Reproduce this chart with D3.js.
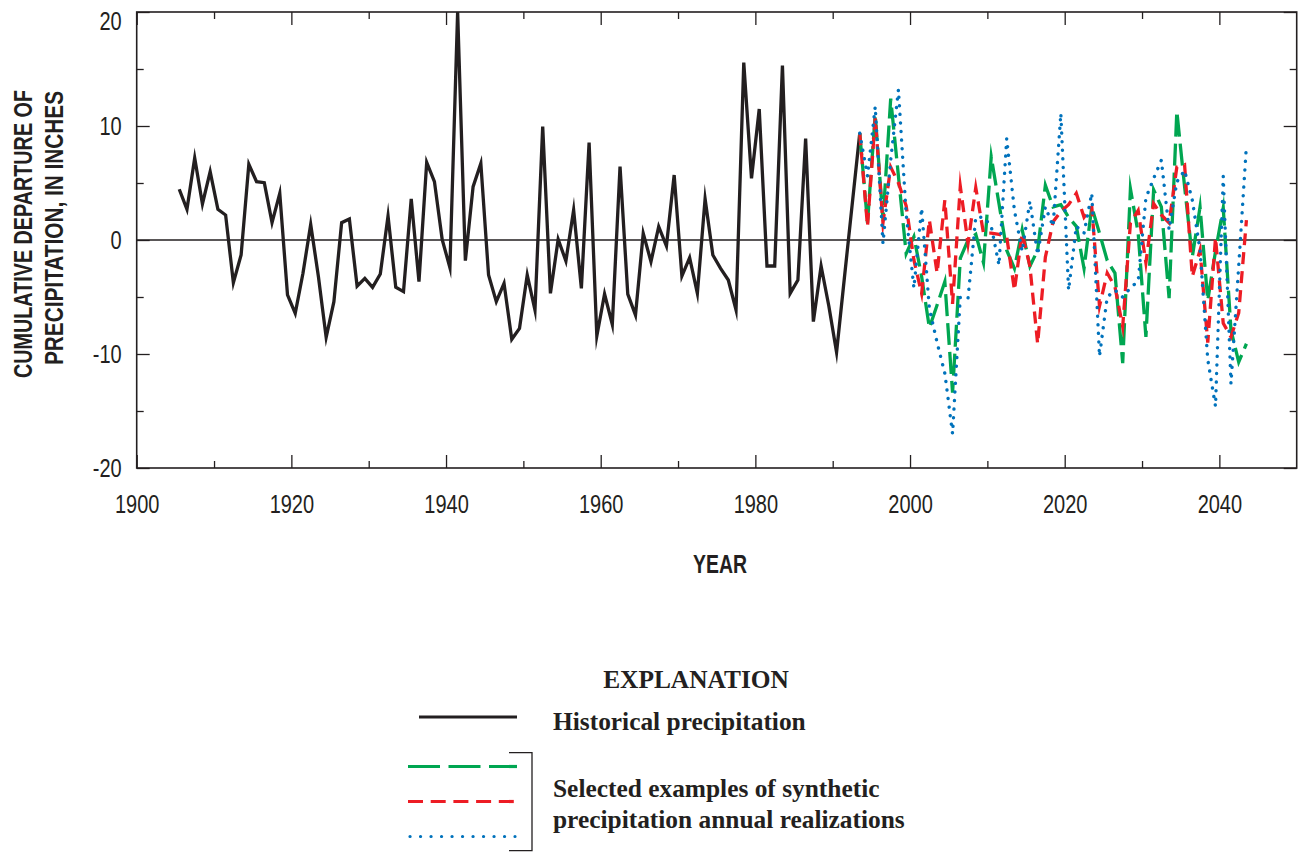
<!DOCTYPE html>
<html>
<head>
<meta charset="utf-8">
<script src="https://cdn.jsdelivr.net/npm/d3@7"></script>
<style>
  body { margin: 0; background: #fff; }
  svg { display: block; }
  .tick text { font-family: "Liberation Sans", Arial, sans-serif; font-size: 25px; fill: #231f20; }
  .axtitle { font-family: "Liberation Sans", Arial, sans-serif; font-weight: bold; font-size: 25px; fill: #231f20; }
  .legtext { font-family: "Liberation Serif", "DejaVu Serif", serif; font-weight: bold; font-size: 25.4px; fill: #231f20; }
</style>
</head>
<body>
<div id="chart"></div>
<script>
const FRAME_WIDTH = 1302;
const FRAME_HEIGHT = 852;
const MARGINS = {left: 136.7, right: 5.3, top: 12, bottom: 384};
const VIS_WIDTH = FRAME_WIDTH - MARGINS.left - MARGINS.right;
const VIS_HEIGHT = FRAME_HEIGHT - MARGINS.top - MARGINS.bottom;
const SQUEEZE = 0.8; // condensed look for the tick labels

// annual values plotted at mid-year
const HIST_YEARS = d3.range(1905.5, 1994.5);
const SYN_YEARS = d3.range(1993.5, 2044.5);

const HISTORICAL = [4.45, 2.69, 7.19, 3.16, 5.99, 2.69, 2.19, -3.74, -1.32, 6.64,
  5.12, 5.03, 1.52, 4.09, -4.82, -6.43, -2.92, 1.37, -3.22, -8.54,
  -5.41, 1.52, 1.84, -4.04, -3.36, -4.15, -2.98, 2.11, -4.15, -4.53,
  3.6, -3.65, 6.81, 5.12, 0.06, -2.43, 20.0, -1.81, 4.68, 6.72,
  -3.07, -5.41, -3.8, -8.71, -7.75, -3.07, -6.14, 9.94, -4.68, 0.06,
  -1.84, 2.63, -4.24, 8.54, -8.42, -4.74, -7.4, 6.43, -4.74, -6.58,
  0.58, -1.9, 1.17, -0.53, 5.7, -3.16, -1.55, -4.68, 3.6, -1.32,
  -2.49, -3.51, -6.14, 15.56, 5.41, 11.49, -2.28, -2.28, 15.3, -4.68,
  -3.51, 8.89, -7.16, -2.28, -5.79, -9.85, -3.4, 3.0, 9.36];

const SYN_GREEN = [9.36, 1.5, 11.0, 1.75, 12.4, 5.6, -1.2, 0.3, -3.2, -7.7,
  -5.7, -3.66, -13.4, -1.6, 0.0, 0.5, -2.0, 7.3, 3.2, -0.9,
  -2.5, 0.9, -2.3, -0.9, 4.8, 2.9, 3.1, 2.0, 1.2, -2.5,
  2.9, 0.6, -1.8, -2.9, -10.8, 4.5, 0.6, -8.5, 4.4, 2.9,
  -5.1, 11.3, 4.7, -1.5, 2.9, -5.3, -1.0, 2.8, -7.9, -10.7, -9.1];

const SYN_RED = [9.36, 1.2, 10.7, 1.5, 6.4, 5.0, 3.0, -1.75, -4.7, 1.75,
  -2.9, 3.5, -5.6, 4.7, -0.3, 4.6, 0.6, 0.6, 0.5, 0.3,
  -4.4, 0.6, -2.3, -9.1, -1.5, 1.6, 2.5, 3.1, 4.1, 2.0,
  2.9, -5.8, -2.9, -4.1, -7.6, 1.5, 2.6, -2.0, 3.2, 2.2,
  1.5, 6.4, 6.6, -3.2, -0.9, -9.0, 0.2, -7.3, -8.5, -6.4, 1.75];

const SYN_BLUE = [9.36, 5.6, 11.7, -0.3, 7.0, 13.2, 2.3, -4.2, 2.8, -6.0,
  -9.0, -11.7, -17.0, -5.0, -5.1, 2.0, 2.0, 1.2, -2.2, 8.9,
  2.6, -1.0, 3.4, -1.3, 2.9, 1.2, 11.1, -4.4, 1.2, 0.6,
  4.1, -10.2, -5.0, -4.4, -5.0, -4.2, -3.6, 3.7, 5.4, 7.0,
  0.9, 5.1, 6.1, 3.5, -0.9, -10.5, -14.6, 5.6, -12.6, -2.3, 8.3];

const X_MAJOR = [1900, 1920, 1940, 1960, 1980, 2000, 2020, 2040];
const X_MINOR = [1910, 1930, 1950, 1970, 1990, 2010, 2030];
const Y_MAJOR = [-20, -10, 0, 10, 20];
const Y_MINOR = [-15, -5, 5, 15];

const INK = "#231f20";

const SVG = d3.select("#chart")
  .append("svg")
    .attr("width", FRAME_WIDTH)
    .attr("height", FRAME_HEIGHT);

const X_SCALE = d3.scaleLinear().domain([1900, 2050]).range([0, VIS_WIDTH]);
const Y_SCALE = d3.scaleLinear().domain([-20, 20]).range([VIS_HEIGHT, 0]);

const PLOT = SVG.append("g")
  .attr("transform", "translate(" + MARGINS.left + "," + MARGINS.top + ")");

// axes: ticks point inward on all four sides
function styleAxis(g) {
  g.select(".domain").remove();
  g.selectAll(".tick line").attr("stroke", INK).attr("stroke-width", 1.3);
}

const xBottom = PLOT.append("g")
  .attr("transform", "translate(0," + VIS_HEIGHT + ")")
  .call(d3.axisBottom(X_SCALE).tickValues(X_MAJOR).tickFormat(d3.format("d")).tickSize(-13).tickPadding(27))
  .call(styleAxis);
xBottom.selectAll(".tick text").attr("transform", "scale(" + SQUEEZE + ",1)");

PLOT.append("g")
  .attr("transform", "translate(0," + VIS_HEIGHT + ")")
  .call(d3.axisBottom(X_SCALE).tickValues(X_MINOR).tickFormat("").tickSize(-7))
  .call(styleAxis);
PLOT.append("g")
  .call(d3.axisTop(X_SCALE).tickValues(X_MAJOR).tickFormat("").tickSize(-13))
  .call(styleAxis);
PLOT.append("g")
  .call(d3.axisTop(X_SCALE).tickValues(X_MINOR).tickFormat("").tickSize(-7))
  .call(styleAxis);

const yLeft = PLOT.append("g")
  .call(d3.axisLeft(Y_SCALE).tickValues(Y_MAJOR).tickFormat(d => String(d)).tickSize(-13).tickPadding(15))
  .call(styleAxis);
yLeft.selectAll(".tick text")
  .attr("x", -15 / SQUEEZE)
  .attr("transform", "scale(" + SQUEEZE + ",1)");
yLeft.selectAll(".tick text").filter(d => d === 20).attr("dy", "0.75em").attr("y", -1);

PLOT.append("g")
  .call(d3.axisLeft(Y_SCALE).tickValues(Y_MINOR).tickFormat("").tickSize(-7))
  .call(styleAxis);
PLOT.append("g")
  .attr("transform", "translate(" + VIS_WIDTH + ",0)")
  .call(d3.axisRight(Y_SCALE).tickValues(Y_MAJOR).tickFormat("").tickSize(-13))
  .call(styleAxis);
PLOT.append("g")
  .attr("transform", "translate(" + VIS_WIDTH + ",0)")
  .call(d3.axisRight(Y_SCALE).tickValues(Y_MINOR).tickFormat("").tickSize(-7))
  .call(styleAxis);

// frame
PLOT.append("rect")
  .attr("width", VIS_WIDTH)
  .attr("height", VIS_HEIGHT)
  .attr("fill", "none")
  .attr("stroke", INK)
  .attr("stroke-width", 1.6);

// zero line
PLOT.append("line")
  .attr("x1", 0).attr("x2", VIS_WIDTH)
  .attr("y1", Y_SCALE(0)).attr("y2", Y_SCALE(0))
  .attr("stroke", INK)
  .attr("stroke-width", 1.6);

const line = d3.line()
  .x(d => X_SCALE(d[0]))
  .y(d => Y_SCALE(d[1]));

const SERIES = [
  {years: HIST_YEARS, values: HISTORICAL, color: INK, dash: null, cap: "butt"},
  {years: SYN_YEARS, values: SYN_GREEN, color: "#00a651", dash: "22,7", cap: "butt"},
  {years: SYN_YEARS, values: SYN_RED, color: "#ed1c24", dash: "12,7", cap: "butt"},
  {years: SYN_YEARS, values: SYN_BLUE, color: "#0072bc", dash: "0.1,8.5", cap: "round"}
];

SERIES.forEach(s => {
  PLOT.append("path")
    .datum(d3.zip(s.years, s.values))
    .attr("d", line)
    .attr("fill", "none")
    .attr("stroke", s.color)
    .attr("stroke-width", s.cap === "round" ? 3.4 : 3.3)
    .attr("stroke-linejoin", "miter")
    .attr("stroke-miterlimit", 10)
    .attr("stroke-linecap", s.cap)
    .attr("stroke-dasharray", s.dash);
});

// squeeze a bold title to a given length
function fitText(sel, len) {
  sel.attr("textLength", len).attr("lengthAdjust", "spacingAndGlyphs");
}

// axis titles
SVG.append("text")
  .attr("class", "axtitle")
  .attr("text-anchor", "middle")
  .attr("x", 720).attr("y", 573)
  .text("YEAR")
  .call(fitText, 54);

SVG.append("text")
  .attr("class", "axtitle")
  .attr("text-anchor", "middle")
  .attr("transform", "translate(32,234) rotate(-90)")
  .text("CUMULATIVE DEPARTURE OF")
  .call(fitText, 288);
SVG.append("text")
  .attr("class", "axtitle")
  .attr("text-anchor", "middle")
  .attr("transform", "translate(63,228) rotate(-90)")
  .text("PRECIPITATION, IN INCHES")
  .call(fitText, 274);

// explanation
const LEG = SVG.append("g");
LEG.append("text").attr("class", "legtext").attr("text-anchor", "middle")
  .attr("x", 696).attr("y", 688).text("EXPLANATION");

LEG.append("line").attr("x1", 419).attr("x2", 517).attr("y1", 717).attr("y2", 717)
  .attr("stroke", INK).attr("stroke-width", 3);
LEG.append("text").attr("class", "legtext").attr("x", 553).attr("y", 730).text("Historical precipitation");

const LEG_SYN = [
  {y: 766.5, color: "#00a651", dash: "32,8.5", cap: "butt", x2: 517},
  {y: 801.5, color: "#ed1c24", dash: "15,7.7", cap: "butt", x2: 515},
  {y: 836.5, color: "#0072bc", dash: "0.1,10.4", cap: "round", x2: 515}
];
LEG_SYN.forEach(s => {
  LEG.append("line")
    .attr("x1", s.cap === "round" ? 410 : 408).attr("x2", s.x2)
    .attr("y1", s.y).attr("y2", s.y)
    .attr("stroke", s.color)
    .attr("stroke-width", 3.2)
    .attr("stroke-linecap", s.cap)
    .attr("stroke-dasharray", s.dash);
});

LEG.append("path")
  .attr("d", "M509,752.7H532V850.7H509")
  .attr("fill", "none")
  .attr("stroke", INK)
  .attr("stroke-width", 1.3);

LEG.append("text").attr("class", "legtext").attr("x", 553).attr("y", 797).text("Selected examples of synthetic");
LEG.append("text").attr("class", "legtext").attr("x", 553).attr("y", 828).text("precipitation annual realizations");
</script>
</body>
</html>
